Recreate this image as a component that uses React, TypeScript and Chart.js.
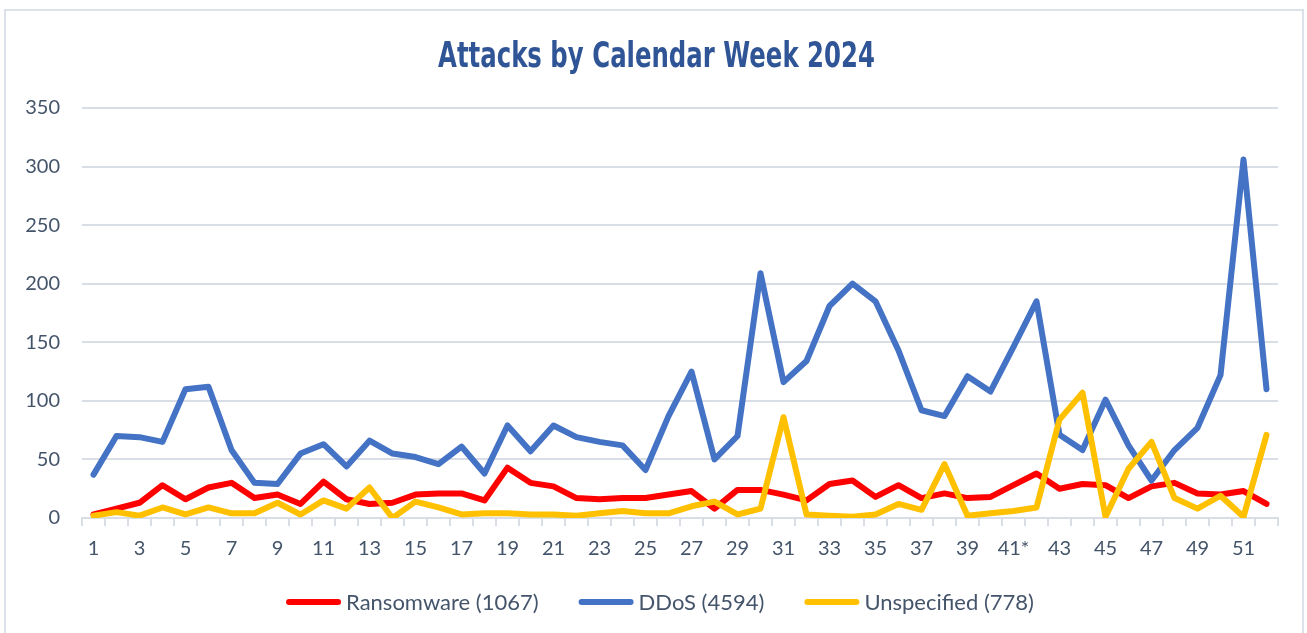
import React, { useEffect, useRef } from "react";
import { Chart, registerables } from "chart.js";

Chart.register(...registerables);

const weeks: string[] = [
  "1","2","3","4","5","6","7","8","9","10","11","12","13","14","15","16","17","18","19","20",
  "21","22","23","24","25","26","27","28","29","30","31","32","33","34","35","36","37","38","39","40",
  "41*","42","43","44","45","46","47","48","49","50","51","52",
];

const ransomware: number[] = [
  3, 8, 13, 28, 16, 26, 30, 17, 20, 12, 31, 16, 12, 13, 20, 21, 21, 15, 43, 30,
  27, 17, 16, 17, 17, 20, 23, 8, 24, 24, 20, 15, 29, 32, 18, 28, 17, 21, 17, 18,
  28, 38, 25, 29, 28, 17, 27, 30, 21, 20, 23, 12,
];

const ddos: number[] = [
  37, 70, 69, 65, 110, 112, 58, 30, 29, 55, 63, 44, 66, 55, 52, 46, 61, 38, 79, 57,
  79, 69, 65, 62, 41, 87, 125, 50, 70, 209, 116, 134, 181, 200, 185, 143, 92, 87, 121, 108,
  146, 185, 71, 58, 101, 62, 32, 58, 77, 122, 306, 110,
];

const unspecified: number[] = [
  2, 5, 2, 9, 3, 9, 4, 4, 13, 3, 15, 8, 26, 0, 14, 9, 3, 4, 4, 3,
  3, 2, 4, 6, 4, 4, 10, 14, 3, 8, 86, 3, 2, 1, 3, 12, 7, 46, 2, 4,
  6, 9, 84, 107, 1, 42, 65, 17, 8, 19, 1, 71,
];

const seriesNames: string[] = ["Ransomware (1067)", "DDoS (4594)", "Unspecified (778)"];
const seriesColors: string[] = ["#FF0000", "#4472C4", "#FFC000"];
const yTicks: number[] = [0, 50, 100, 150, 200, 250, 300, 350];
const TITLE = "Attacks by Calendar Week 2024";

const TEXT = "#44546A";
const GRID = "#D9DEE6";
const FONT = "Lato, 'Open Sans', sans-serif";

const overlayPlugin = {
  id: "overlay",
  afterDraw(chart: any) {
    const ctx: CanvasRenderingContext2D = chart.ctx;
    // Title (condensed)
    ctx.save();
    ctx.font = "600 36px 'DejaVu Sans Condensed', 'Liberation Sans Narrow', sans-serif";
    const tw = ctx.measureText(TITLE).width;
    const sx = 437 / tw;
    ctx.translate(656.5, 67);
    ctx.scale(sx, 1);
    ctx.textAlign = "center";
    ctx.textBaseline = "alphabetic";
    ctx.fillStyle = "#2F5597";
    ctx.fillText(TITLE, 0, 0);
    ctx.restore();

    // Legend
    ctx.save();
    ctx.font = `22px ${FONT}`;
    const sampleW = 55;
    const lw = 6;
    const gapText = 5;
    const gapItem = 40;
    const items = chart.data.datasets.map((d: any) => ({
      label: d.label as string,
      color: d.borderColor as string,
      w: ctx.measureText(d.label).width,
    }));
    const total =
      items.reduce((s: number, it: any) => s + sampleW + gapText + it.w, 0) + gapItem * (items.length - 1);
    let x = 660 - total / 2;
    const y = 602;
    ctx.textAlign = "left";
    ctx.textBaseline = "middle";
    for (const it of items) {
      ctx.beginPath();
      ctx.strokeStyle = it.color;
      ctx.lineWidth = lw;
      ctx.lineCap = "round";
      ctx.moveTo(x + lw / 2, y);
      ctx.lineTo(x + sampleW - lw / 2, y);
      ctx.stroke();
      ctx.fillStyle = TEXT;
      ctx.fillText(it.label, x + sampleW + gapText, y + 1);
      x += sampleW + gapText + it.w + gapItem;
    }
    ctx.restore();
  },
};

export default function App() {
  const ref = useRef<HTMLCanvasElement | null>(null);

  useEffect(() => {
    document.body.style.margin = "0";
    const canvas = ref.current;
    if (!canvas) return;
    const mk = (i: number, data: number[], order: number) => ({
      label: seriesNames[i],
      data,
      borderColor: seriesColors[i],
      backgroundColor: seriesColors[i],
      borderWidth: 6,
      pointRadius: 0,
      pointHoverRadius: 0,
      tension: 0,
      borderJoinStyle: "round" as const,
      borderCapStyle: "round" as const,
      order,
    });
    const chart = new Chart(canvas, {
      type: "line",
      data: {
        labels: weeks,
        datasets: [mk(0, ransomware, 2), mk(1, ddos, 1), mk(2, unspecified, 0)],
      },
      plugins: [overlayPlugin],
      options: {
        animation: false,
        responsive: false,
        maintainAspectRatio: false,
        layout: { padding: { left: 0, right: 29, top: 108, bottom: 61 } },
        plugins: {
          tooltip: { enabled: false },
          title: { display: false },
          legend: { display: false },
        },
        scales: {
          x: {
            type: "category",
            offset: true,
            grid: {
              display: true,
              offset: true,
              drawOnChartArea: false,
              drawTicks: true,
              tickLength: 8,
              color: GRID,
              lineWidth: 2,
            },
            border: { display: true, color: GRID, width: 2 },
            ticks: {
              color: TEXT,
              font: { family: FONT, size: 20 },
              autoSkip: false,
              maxRotation: 0,
              minRotation: 0,
              padding: 11,
              callback: (_v: any, i: number) => (i % 2 === 0 ? weeks[i] : ""),
            },
          },
          y: {
            min: yTicks[0],
            max: yTicks[yTicks.length - 1],
            afterFit: (scale: any) => {
              scale.width = 82;
            },
            afterBuildTicks: (scale: any) => {
              scale.ticks = yTicks.map((v) => ({ value: v }));
            },
            grid: { color: GRID, lineWidth: 2, drawTicks: false },
            border: { display: false },
            ticks: {
              color: TEXT,
              font: { family: FONT, size: 20 },
              padding: 22,
            },
          },
        },
      },
    });
    return () => chart.destroy();
  }, []);

  return (
    <div style={{ position: "relative", width: 1307, height: 633, overflow: "hidden", background: "#fff" }}>
      <div
        style={{
          position: "absolute",
          left: 4,
          top: 9,
          width: 1300,
          height: 640,
          border: "2px solid #DCE2EA",
          boxSizing: "border-box",
          pointerEvents: "none",
        }}
      />
      <canvas ref={ref} width={1307} height={633} style={{ position: "absolute", left: 0, top: 0, width: 1307, height: 633 }} />
    </div>
  );
}
